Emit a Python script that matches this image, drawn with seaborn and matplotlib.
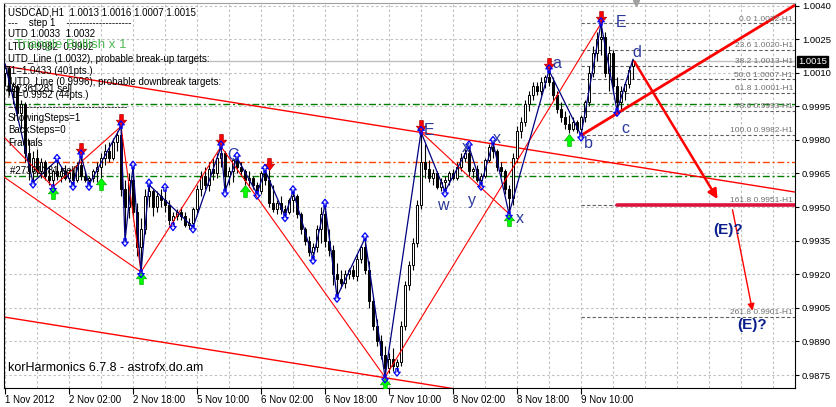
import numpy as np
import matplotlib
matplotlib.use("Agg")
import matplotlib.pyplot as plt
from matplotlib.path import Path
import seaborn as sns

# ---------------- data ----------------
opens = [1.0010, 1.0012, 1.0002, 1.0004, 0.9992, 0.9996, 0.9974, 0.9966, 0.9972, 0.9966,
         0.9970, 0.9964, 0.9962, 0.9966, 0.9964, 0.9966, 0.9963, 0.9965, 0.9962, 0.9969,
         0.9964, 0.9962, 0.9963, 0.9966, 0.9968, 0.9972, 0.9975, 0.9972, 0.9979, 0.9982,
         0.9958, 0.9950, 0.9962, 0.9948, 0.9932, 0.9940, 0.9955, 0.9957, 0.9950, 0.9955,
         0.9953, 0.9951, 0.9944, 0.9946, 0.9948, 0.9946, 0.9942, 0.9943, 0.9949, 0.9958,
         0.9964, 0.9960, 0.9967, 0.9965, 0.9972, 0.9974, 0.9964, 0.9966, 0.9971, 0.9968,
         0.9966, 0.9962, 0.9963, 0.9960, 0.9957, 0.9965, 0.9962, 0.9952, 0.9949, 0.9952,
         0.9949, 0.9948, 0.9953, 0.9955, 0.9947, 0.9940, 0.9935, 0.9930, 0.9932, 0.9940,
         0.9947, 0.9935, 0.9931, 0.9920, 0.9918, 0.9916, 0.9920, 0.9922, 0.9919, 0.9927,
         0.9932, 0.9922, 0.9908, 0.9897, 0.9890, 0.9884, 0.9878, 0.9882, 0.9879, 0.9881,
         0.9897, 0.9915, 0.9924, 0.9934, 0.9951, 0.9970, 0.9967, 0.9963, 0.9965, 0.9959,
         0.9961, 0.9962, 0.9965, 0.9963, 0.9968, 0.9972, 0.9974, 0.9966, 0.9967, 0.9962,
         0.9964, 0.9971, 0.9977, 0.9975, 0.9968, 0.9966, 0.9958, 0.9954, 0.9972, 0.9984,
         0.9988, 0.9996, 1.0000, 1.0004, 1.0002, 1.0006, 1.0008, 1.0006, 1.0000, 0.9994,
         0.9990, 0.9987, 0.9985, 0.9988, 0.9985, 0.9990, 0.9997, 1.0010, 1.0019, 1.0025,
         1.0026, 1.0010, 1.0019, 1.0004, 0.9997, 1.0002, 1.0005, 1.0013]
highs = [1.0014, 1.0013, 1.0006, 1.0005, 0.9998, 0.9997, 0.9980, 0.9975, 0.9976, 0.9972,
         0.9971, 0.9968, 0.9967, 0.9971, 0.9968, 0.9969, 0.9967, 0.9967, 0.9970, 0.9973,
         0.9966, 0.9964, 0.9967, 0.9970, 0.9974, 0.9978, 0.9979, 0.9981, 0.9984, 0.9986,
         0.9962, 0.9965, 0.9968, 0.9952, 0.9945, 0.9958, 0.9960, 0.9958, 0.9957, 0.9958,
         0.9958, 0.9953, 0.9948, 0.9949, 0.9950, 0.9948, 0.9945, 0.9950, 0.9960, 0.9966,
         0.9968, 0.9970, 0.9972, 0.9974, 0.9977, 0.9975, 0.9968, 0.9972, 0.9972, 0.9970,
         0.9967, 0.9966, 0.9964, 0.9961, 0.9966, 0.99665, 0.99665, 0.9960, 0.9953, 0.9955,
         0.9951, 0.9954, 0.9957, 0.9956, 0.9948, 0.9941, 0.9937, 0.9934, 0.9942, 0.9950,
         0.9951, 0.9940, 0.9933, 0.9925, 0.9922, 0.9922, 0.9923, 0.9924, 0.9929, 0.9933,
         0.9936, 0.9926, 0.9910, 0.9900, 0.9893, 0.9888, 0.9885, 0.9887, 0.9882, 0.9899,
         0.9917, 0.9926, 0.9936, 0.9953, 0.99835, 0.9978, 0.9971, 0.9967, 0.9966, 0.9963,
         0.9964, 0.9966, 0.9967, 0.9970, 0.9974, 0.9976, 0.9977, 0.9968, 0.9969, 0.9965,
         0.9972, 0.9978, 0.9979, 0.9976, 0.9970, 0.9967, 0.9960, 0.9974, 0.9986, 0.9990,
         0.9998, 1.0002, 1.0006, 1.0006, 1.0008, 1.0009, 1.0011, 1.0008, 1.0002, 0.9997,
         0.9993, 0.9991, 0.9990, 0.9989, 0.9991, 0.9998, 1.0013, 1.0022, 1.0028, 1.0032,
         1.0028, 1.0022, 1.0020, 1.0008, 1.0004, 1.0006, 1.0013, 1.0016]
lows = [1.0004, 1.0000, 0.9996, 0.9990, 0.9985, 0.9970, 0.9962, 0.9961, 0.9964, 0.9963,
        0.9962, 0.9960, 0.9959, 0.9962, 0.9961, 0.9962, 0.9961, 0.9960, 0.9961, 0.9962,
        0.9961, 0.9960, 0.9961, 0.9961, 0.9963, 0.9969, 0.9970, 0.9971, 0.9975, 0.9955,
        0.9935, 0.9945, 0.9945, 0.9928, 0.9921, 0.9938, 0.9950, 0.9946, 0.9948, 0.9950,
        0.9948, 0.9942, 0.9942, 0.9944, 0.9944, 0.9941, 0.9940, 0.9941, 0.9947, 0.9955,
        0.9958, 0.9957, 0.9962, 0.9963, 0.9968, 0.9957, 0.9960, 0.9961, 0.9965, 0.9964,
        0.9960, 0.9959, 0.9958, 0.9956, 0.9956, 0.9960, 0.9950, 0.9948, 0.9947, 0.9947,
        0.9946, 0.9947, 0.9948, 0.9945, 0.9938, 0.9933, 0.9928, 0.9927, 0.9930, 0.9934,
        0.9932, 0.9928, 0.9915, 0.9910, 0.9914, 0.9914, 0.9918, 0.9918, 0.9917, 0.9925,
        0.9920, 0.9905, 0.9895, 0.9888, 0.9882, 0.9874, 0.9876, 0.9877, 0.9877, 0.9879,
        0.9895, 0.9913, 0.9922, 0.9932, 0.9949, 0.9963, 0.9961, 0.9960, 0.9958, 0.9957,
        0.9957, 0.9960, 0.9962, 0.9962, 0.9966, 0.9970, 0.9964, 0.9963, 0.9961, 0.9960,
        0.9963, 0.9970, 0.9972, 0.9966, 0.9964, 0.9956, 0.9947, 0.9951, 0.9970, 0.9981,
        0.9986, 0.9993, 0.9998, 1.0000, 1.0000, 1.0003, 1.0004, 0.9998, 0.9992, 0.9988,
        0.9985, 0.9983, 0.9984, 0.9983, 0.9982, 0.9988, 0.9995, 1.0008, 1.0015, 1.0018,
        1.0008, 1.0002, 1.0001, 0.9993, 0.9994, 0.9998, 1.0003, 1.0007]
closes = [1.0012, 1.0002, 1.0004, 0.9992, 0.9996, 0.9974, 0.9966, 0.9972, 0.9966, 0.9970,
          0.9964, 0.9962, 0.9966, 0.9964, 0.9966, 0.9963, 0.9965, 0.9962, 0.9969, 0.9964,
          0.9962, 0.9963, 0.9966, 0.9968, 0.9972, 0.9975, 0.9972, 0.9979, 0.9982, 0.9958,
          0.9950, 0.9962, 0.9948, 0.9932, 0.9940, 0.9955, 0.9957, 0.9950, 0.9955, 0.9953,
          0.9951, 0.9944, 0.9946, 0.9948, 0.9946, 0.9942, 0.9943, 0.9949, 0.9958, 0.9964,
          0.9960, 0.9967, 0.9965, 0.9972, 0.9974, 0.9964, 0.9966, 0.9971, 0.9968, 0.9966,
          0.9962, 0.9963, 0.9960, 0.9957, 0.9965, 0.9962, 0.9952, 0.9949, 0.9952, 0.9949,
          0.9948, 0.9953, 0.9955, 0.9947, 0.9940, 0.9935, 0.9930, 0.9932, 0.9940, 0.9947,
          0.9935, 0.9931, 0.9920, 0.9918, 0.9916, 0.9920, 0.9922, 0.9919, 0.9927, 0.9932,
          0.9922, 0.9908, 0.9897, 0.9890, 0.9884, 0.9878, 0.9882, 0.9879, 0.9881, 0.9897,
          0.9915, 0.9924, 0.9934, 0.9951, 0.9970, 0.9967, 0.9963, 0.9965, 0.9959, 0.9961,
          0.9962, 0.9965, 0.9963, 0.9968, 0.9972, 0.9974, 0.9966, 0.9967, 0.9962, 0.9964,
          0.9971, 0.9977, 0.9975, 0.9968, 0.9966, 0.9958, 0.9954, 0.9972, 0.9984, 0.9988,
          0.9996, 1.0000, 1.0004, 1.0002, 1.0006, 1.0008, 1.0006, 1.0000, 0.9994, 0.9990,
          0.9987, 0.9985, 0.9988, 0.9985, 0.9990, 0.9997, 1.0010, 1.0019, 1.0025, 1.0026,
          1.0010, 1.0019, 1.0004, 0.9997, 1.0002, 1.0005, 1.0011, 1.0015]

date_labels = ["1 Nov 2012", "2 Nov 02:00", "2 Nov 18:00", "5 Nov 10:00", "6 Nov 02:00",
               "6 Nov 18:00", "7 Nov 10:00", "8 Nov 02:00", "8 Nov 18:00", "9 Nov 10:00"]
date_label_bars = [0, 16, 32, 48, 64, 80, 96, 112, 128, 144]
price_ticks = [0.9875, 0.9890, 0.9905, 0.9920, 0.9935, 0.9950, 0.9965, 0.9980,
               0.9995, 1.0010, 1.0025, 1.0040]

# fractals / zigzag
zz_bars = [0, 7, 13, 17, 19, 21, 29, 30, 32, 34, 36, 47, 54, 55, 58, 63, 65, 70, 72, 77,
           80, 83, 90, 95, 104, 110, 116, 119, 122, 126, 136, 144, 149, 153, 157]
zz_kind = ["H", "L", "H", "L", "H", "L", "H", "L", "H", "L", "H", "L", "H", "L", "H", "L",
           "H", "L", "H", "L", "H", "L", "H", "L", "H", "L", "H", "L", "H", "L", "H", "L",
           "H", "L", "H"]
blue_up_bars = [13, 19, 29, 32, 36, 40, 54, 58, 65, 72, 80, 90, 104, 116, 122, 136, 149]
blue_dn_bars = [7, 12, 17, 21, 30, 34, 42, 47, 55, 63, 70, 77, 83, 95, 98, 110, 119, 126, 144, 153]
sell_bars = [19, 29, 54, 66, 104, 136, 149]
buy_bars = [12, 24, 34, 60, 95, 126, 141]

# harmonic pattern lines (bar, price)
red_path1_bars = [0, 12, 29, 34, 54, 95, 149]
red_path1_prices = [0.99808, 0.9959, 0.9986, 0.9921, 0.9977, 0.9874, 1.0032]
red_path2_bars = [-0.25, 34]
red_path2_prices = [0.99634, 0.9921]
red_path3_bars = [104, 126]
red_path3_prices = [0.99835, 0.9947]
chan_up_bars = [-0.25, 197.5]
chan_up_prices = [1.00130, 0.99567]
chan_lo_bars = [-0.25, 197.5]
chan_lo_prices = [0.99009, 0.98446]
bline_bars = [144, 197.5]
bline_prices = [0.9982, 1.00402]
proj_arrow_bars = [157, 178.5]
proj_arrow_prices = [1.0016, 0.99525]
proj_arrow2_bars = [181.75, 187]
proj_arrow2_prices = [0.9950, 0.99025]
target_bars = [153, 197.5]
target_price = 0.9951

fib_ratios = ["0.0", "23.6", "38.2", "50.0", "61.8", "78.6", "100.0", "161.8", "261.8"]
fib_prices = [1.0032, 1.0020, 1.0013, 1.0007, 1.0001, 0.9993, 0.9982, 0.9951, 0.9901]
fib_start_bar = 144

utd_line = 0.9996
order_line = 0.9964
orange_line = 0.9970
bid = 1.0015

pattern_labels = ["E", "C", "x", "x", "w", "y", "x", "a", "E", "d", "b", "c"]
pattern_label_bars = [106, 57, 115.25, 123, 109.5, 116.75, 128.75, 138, 154, 158, 145.75, 155]
pattern_label_prices = [0.99840, 0.99732, 0.99768, 0.99808, 0.99509, 0.99531, 0.99447,
                        1.00143, 1.00326, 1.00192, 0.99786, 0.99853]

# ---------------- figure ----------------
sns.set_theme(style="white")
plt.rcParams['font.family'] = ['Liberation Sans', 'DejaVu Sans']

W, H = 837, 407
fig = plt.figure(figsize=(W / 100, H / 100), dpi=100)
fig.patch.set_facecolor("white")
ax = fig.add_axes([4 / W, 19 / H, 791 / W, 385 / H])
ax.set_facecolor("white")

o = np.array(opens); h = np.array(highs); l = np.array(lows); c = np.array(closes)
idx = np.arange(len(c))

XMIN, XMAX = -0.25, 197.5
YMIN, YMAX = 0.986920, 1.004112

# grid
grid_col = "#C0C0C0"
for gx in range(0, 198, 8):
    ax.axvline(gx, color=grid_col, lw=0.8, ls=(0, (2.2, 2.2)), zorder=0)
for gy in price_ticks:
    ax.axhline(gy, color=grid_col, lw=0.8, ls=(0, (2.2, 2.2)), zorder=0)

# horizontal levels
ax.axhline(utd_line, color="#008000", lw=1.0, ls=(0, (5, 2, 1.5, 2)), zorder=1)
ax.axhline(order_line, color="#008000", lw=1.0, ls=(0, (5, 2, 1.5, 2)), zorder=1)
ax.axhline(orange_line, color="#FF4500", lw=1.0, ls=(0, (5, 2, 1.5, 2)), zorder=1)
ax.axhline(bid, color="#C0C0C0", lw=1.0, zorder=1)

# fib levels
for r, p in zip(fib_ratios, fib_prices):
    ax.plot([fib_start_bar, XMAX], [p, p], color="#606060", lw=0.8, ls=(0, (3, 2)), zorder=1)
    ax.text(197, p + 0.00004, f"{r} {p:.4f}-H1", ha="right", va="bottom",
            fontsize=6, color="#707070", zorder=6)

# channel lines
ax.plot(chan_up_bars, chan_up_prices, color="#FF0000", lw=1.0, zorder=2)
ax.plot(chan_lo_bars, chan_lo_prices, color="#FF0000", lw=1.0, zorder=2)

# candles
ax.vlines(idx, l, h, color="black", lw=0.8, zorder=3)
up = c >= o
body = np.maximum(np.abs(c - o), 0.00003)
ax.bar(idx[up], body[up], bottom=o[up], width=0.72, color="white",
       edgecolor="black", linewidth=0.7, zorder=3)
ax.bar(idx[~up], body[~up], bottom=c[~up], width=0.72, color="black",
       edgecolor="black", linewidth=0.7, zorder=3)

# red thin pattern lines
ax.plot(red_path1_bars, red_path1_prices, color="#FF0000", lw=0.8, zorder=4)
ax.plot(red_path2_bars, red_path2_prices, color="#FF0000", lw=0.8, zorder=4)
ax.plot(red_path3_bars, red_path3_prices, color="#FF0000", lw=0.8, zorder=4)

# blue zigzag
zz_prices = [h[b] if k == "H" else l[b] for b, k in zip(zz_bars, zz_kind)]
sns.lineplot(x=zz_bars, y=zz_prices, sort=False, estimator=None, color="#000080",
             lw=0.9, ax=ax, zorder=4, legend=False)

# thick red lines
ax.plot(bline_bars, bline_prices, color="#FF0000", lw=2.0, zorder=5, solid_capstyle="butt")
ax.plot(target_bars, [target_price, target_price], color="#DC143C", lw=2.6, zorder=5)
ax.annotate("", xy=(proj_arrow_bars[1], proj_arrow_prices[1]),
            xytext=(proj_arrow_bars[0], proj_arrow_prices[0]),
            arrowprops=dict(arrowstyle="-|>", color="#FF0000", lw=1.8, mutation_scale=14),
            zorder=5)
ax.annotate("", xy=(proj_arrow2_bars[1], proj_arrow2_prices[1]),
            xytext=(proj_arrow2_bars[0], proj_arrow2_prices[0]),
            arrowprops=dict(arrowstyle="-|>", color="#FF0000", lw=1.0, mutation_scale=10),
            zorder=5)

# arrow markers
down_arrow = Path([(-0.3, 1), (0.3, 1), (0.3, 0.05), (0.85, 0.05), (0, -1),
                   (-0.85, 0.05), (-0.3, 0.05), (-0.3, 1)],
                  [Path.MOVETO] + [Path.LINETO] * 6 + [Path.CLOSEPOLY])
up_arrow = Path([(x, -y) for x, y in down_arrow.vertices], down_arrow.codes)

off_big = 0.00029
ax.scatter(sell_bars, [h[b] + off_big for b in sell_bars], marker=down_arrow, s=75,
           facecolor="#FF0000", edgecolor="#B00000", linewidths=0.5, zorder=7)
ax.scatter(buy_bars, [l[b] - off_big for b in buy_bars], marker=up_arrow, s=75,
           facecolor="#00FF00", edgecolor="#00B000", linewidths=0.5, zorder=7)
ax.scatter(blue_up_bars, [h[b] + 0.00008 for b in blue_up_bars], marker=up_arrow, s=30,
           facecolor="none", edgecolor="#0000FF", linewidths=0.9, zorder=8)
ax.scatter(blue_dn_bars, [l[b] - 0.00008 for b in blue_dn_bars], marker=down_arrow, s=30,
           facecolor="none", edgecolor="#0000FF", linewidths=0.9, zorder=8)

# pattern labels
for t, bx, py in zip(pattern_labels, pattern_label_bars, pattern_label_prices):
    ax.text(bx, py, t, fontsize=11.5, color="#2B3A9A", ha="center", va="center", zorder=9)
ax.text(180.75, 0.99397, "(E)?", fontsize=11, fontweight="bold", color="#0A1E8C",
        ha="center", va="center", zorder=9)
ax.text(186.75, 0.98973, "(E)?", fontsize=11, fontweight="bold", color="#0A1E8C",
        ha="center", va="center", zorder=9)

# axes formatting
ax.set_xlim(XMIN, XMAX)
ax.set_ylim(YMIN, YMAX)
ax.yaxis.tick_right()
ax.set_yticks(price_ticks)
ax.set_yticklabels([f"{v:.4f}" for v in price_ticks])
ax.set_xticks(date_label_bars)
ax.set_xticklabels(date_labels, ha="left")
ax.tick_params(axis="y", right=True, left=False, length=3, width=0.8, labelsize=6.8,
               pad=2, colors="black")
ax.tick_params(axis="x", bottom=True, length=4, width=0.8, labelsize=7, pad=1,
               colors="black")
for s in ["left", "right", "bottom"]:
    ax.spines[s].set_color("black")
    ax.spines[s].set_linewidth(0.8)
ax.spines["top"].set_color("#A0A0A0")
ax.spines["top"].set_linewidth(0.8)
ax.set_xlabel("")
ax.set_ylabel("")

# current price tag
ax.text(1.004, bid, f"{bid:.4f}", transform=ax.get_yaxis_transform(), color="white",
        fontsize=6.8, va="center", ha="left", zorder=10, clip_on=False,
        bbox=dict(boxstyle="square,pad=0.15", fc="black", ec="black"))
# chart shift marker
ax.plot([157.75], [1.0], marker="v", color="#A0A0A0", markersize=5,
        transform=ax.get_xaxis_transform(), clip_on=False, zorder=10)

# overlay texts (pixel positions from the top-left)
def ftext(x, y, s, **kw):
    fig.text(x / W, 1 - y / H, s, va="center", ha="left", **kw)

ftext(8, 12.7, "USDCAD,H1  1.0013 1.0016 1.0007 1.0015", fontsize=7, color="black")
ftext(8, 23.3, "---    step 1    --------------------", fontsize=7, color="black")
ftext(8, 34, "UTD 1.0033  1.0032", fontsize=7, color="black")
ftext(8, 46.7, "LTD 0.9982  0.9992", fontsize=7, color="black")
ftext(15, 45, "Triangle Bullish x 1", fontsize=9.5, color="#3CB043", alpha=0.9)
ftext(8, 59, "UTD_Line (1.0032), probable break-up targets:", fontsize=7, color="black")
ftext(5, 70.7, "T1=1.0433 (401pts.)", fontsize=7, color="black")
ftext(10, 82.3, "UTD_Line (0.9996), probable downbreak targets:", fontsize=7, color="black")
ftext(6, 89, "#27361281 sell", fontsize=7, color="black")
ftext(6, 95, "T1=0.9952 (44pts.)", fontsize=7, color="black")
ftext(8, 106.7, "-------------------------------------", fontsize=7, color="black")
ftext(8, 118.3, "ShowingSteps=1", fontsize=7, color="black")
ftext(8, 130, "BackSteps=0", fontsize=7, color="black")
ftext(8, 142.7, "Fractals", fontsize=7, color="black")
ftext(10, 171, "#27361281 sell", fontsize=7, color="black")
ftext(8, 368, "korHarmonics 6.7.8 - astrofx.do.am", fontsize=9, color="black")

fig.savefig("out.png", dpi=100, facecolor="white")
